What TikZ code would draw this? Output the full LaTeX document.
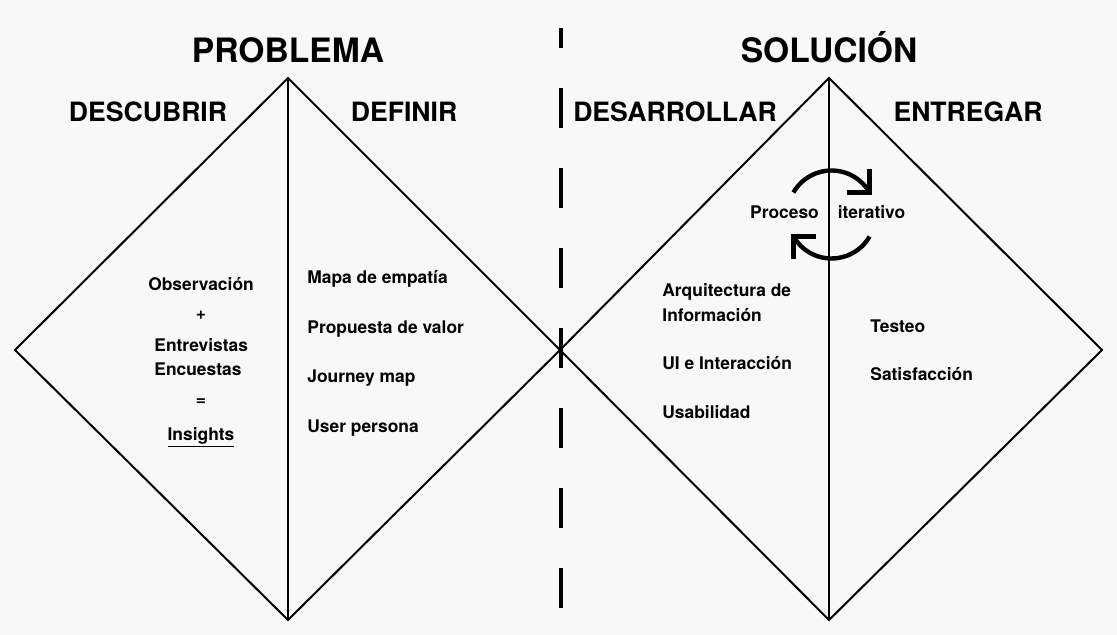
\documentclass[tikz,border=0pt]{standalone}
\usepackage{fontspec}
\setmainfont{TeX Gyre Heros}
\usetikzlibrary{calc}

\definecolor{fondo}{HTML}{F8F8F8}

\tikzset{
  titulo/.style={anchor=base, font=\fontsize{16.8}{20}\selectfont\bfseries},
  fase/.style={anchor=base, font=\fontsize{13.3}{16}\selectfont\bfseries},
  item/.style={anchor=base west, inner sep=0pt, font=\fontsize{8.7}{11}\selectfont\bfseries},
  itemc/.style={item, anchor=base},
}

\begin{document}
\begin{tikzpicture}[x=0.5pt, y=-0.5pt, line join=miter]
            % Background
            \fill[fondo] (0,0) rectangle (1117,635);
            \useasboundingbox (0,0) rectangle (1117,635);

            % Diamond corners
            \coordinate (izq) at (15,350);
            \coordinate (arr1) at (288,78);
            \coordinate (aba1) at (288,620);
            \coordinate (centro) at (560,350);
            \coordinate (arr2) at (829,78);
            \coordinate (aba2) at (829,620);
            \coordinate (der) at (1102,350);

            % Diamonds
            \draw[line width=1pt] (izq) -- (arr1) -- (centro) -- (aba1) -- cycle;
            \draw[line width=1pt] (centro) -- (arr2) -- (der) -- (aba2) -- cycle;
            \draw[line width=1pt] (arr1) -- (aba1);
            \draw[line width=1pt] (arr2) -- (aba2);

            % Split line
            \draw[line width=2pt, dash pattern=on 20pt off 20pt, dash phase=10pt] (561,28) -- (561,608);

            % Iterative cycle
            \coordinate (ciclo) at (831.5,214.5);
            \draw[line width=2.2pt] (ciclo) ++(-150:44) arc[start angle=-150, end angle=-30, radius=44];
            \draw[line width=2.2pt] (ciclo) ++(-30:44) ++(0,-23) -- ++(0,23) -- ++(-23,0);
            \draw[line width=2.2pt] (ciclo) ++(30:44) arc[start angle=30, end angle=150, radius=44];
            \draw[line width=2.2pt] (ciclo) ++(150:44) ++(0,23) -- ++(0,-23) -- ++(23,0);
            \node[itemc] (proceso) at (784.5,219) {Proceso};
            \node[itemc] (iterativo) at (871.5,219) {iterativo};

            % Titles
            \node[titulo] (problema) at (288,63) {PROBLEMA};
            \node[titulo] (solucion) at (829,63) {SOLUCIÓN};
            \node[fase] (descubrir) at (148,122) {DESCUBRIR};
            \node[fase] (definir) at (404,122) {DEFINIR};
            \node[fase] (desarrollar) at (675,122) {DESARROLLAR};
            \node[fase] (entregar) at (968,122) {ENTREGAR};

            % Descubrir
            \node[itemc] (observacion) at (201,291) {Observación};
            \node[itemc, anchor=center] (mas) at (201,315) {+};
            \node[item] (entrevistas) at (154,352) {Entrevistas};
            \node[item] (encuestas) at (154,376) {Encuestas};
            \node[itemc, anchor=center] (igual) at (201,402) {=};
            \node[itemc] (insights) at (201,440) {\underline{Insights}};

            % Definir
            \node[item] (mapa) at (307,284) {Mapa de empatía};
            \node[item] (propuesta) at (307,334) {Propuesta de valor};
            \node[item] (journey) at (307,383) {Journey map};
            \node[item] (persona) at (307,432) {User persona};

            % Desarrollar
            \node[item] (arquitectura) at (662,297) {Arquitectura de};
            \node[item] (informacion) at (662,322) {Información};
            \node[item] (interaccion) at (662,370) {UI e Interacción};
            \node[item] (usabilidad) at (662,419) {Usabilidad};

            % Entregar
            \node[item] (testeo) at (870,333) {Testeo};
            \node[item] (satisfaccion) at (870,381) {Satisfacción};
        \end{tikzpicture}
\end{document}
